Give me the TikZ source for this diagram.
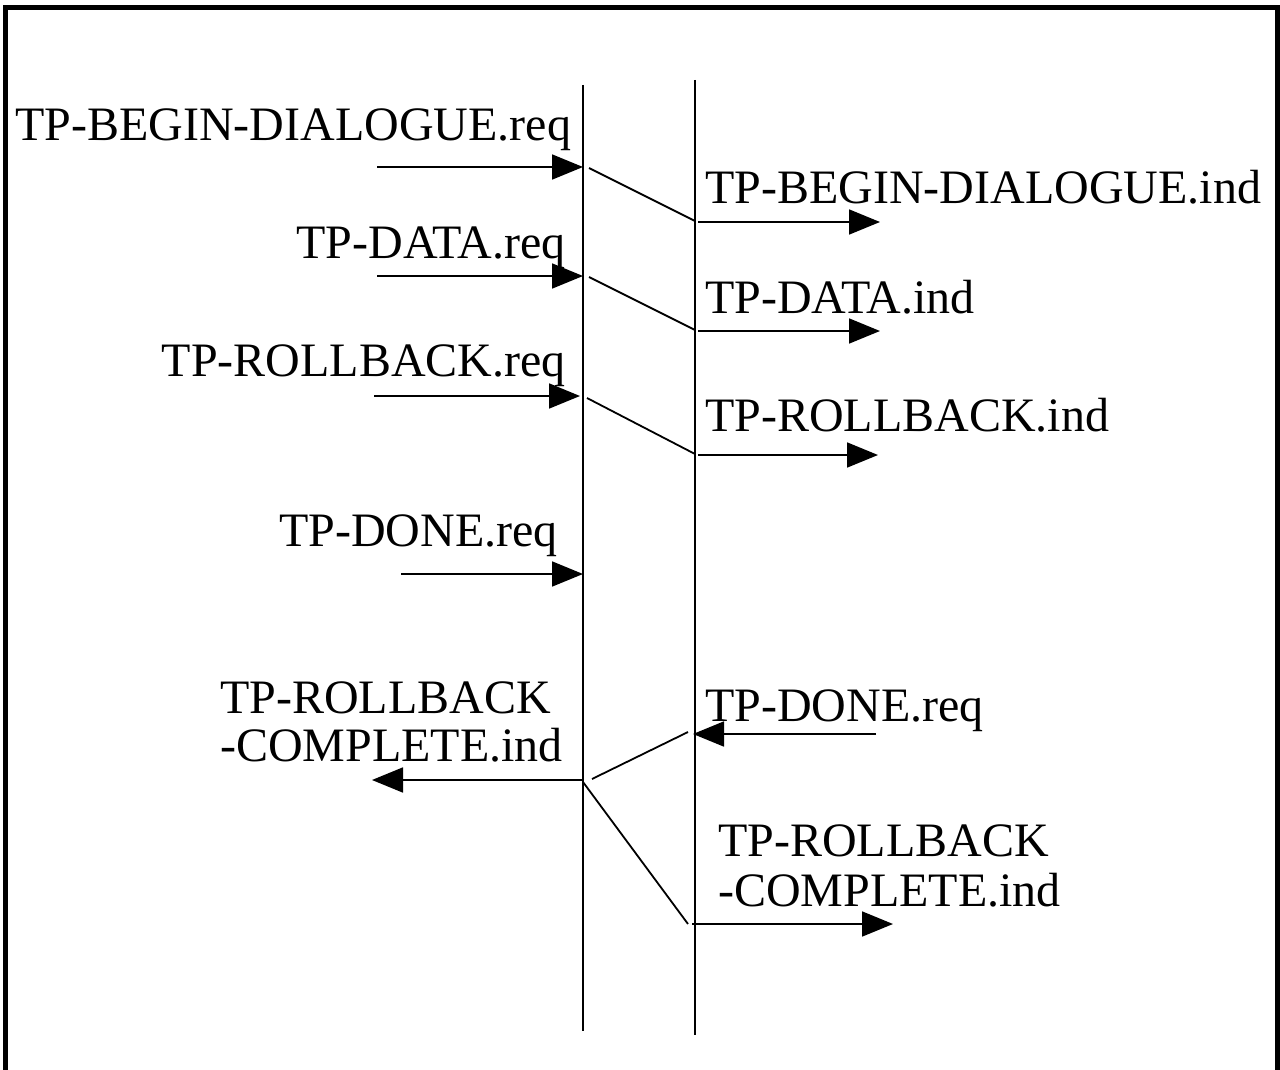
\documentclass[tikz,border=0pt]{standalone}
\usepackage{fontspec}
\setmainfont{Liberation Serif}
\usetikzlibrary{arrows.meta}
\begin{document}
\begin{tikzpicture}[x=1pt,y=-1pt,
  lbl/.style={inner sep=0pt,font=\fontsize{48}{50}\selectfont},
  lblw/.style={lbl,anchor=base west},
  lble/.style={lbl,anchor=base east},
  msg/.style={line width=1.8pt,-{Triangle[length=31pt,width=25pt]}},
  link/.style={line width=1.8pt},
  life/.style={line width=2pt}]
  \useasboundingbox (0,0) rectangle (1280,1070);
  % open frame
  \draw[line width=5pt] (5,1070) -- (5,8) -- (1277,8) -- (1277,1070);

  % two lifelines
  \coordinate (aTop) at (583,85);   \coordinate (aBot) at (583,1031);
  \coordinate (bTop) at (695,80);   \coordinate (bBot) at (695,1035);
  \draw[life] (aTop) -- (aBot);
  \draw[life] (bTop) -- (bBot);

  % begin dialogue
  \coordinate (r1s) at (377,167); \coordinate (r1e) at (583,167);
  \coordinate (d1s) at (589,168); \coordinate (d1e) at (695,221);
  \coordinate (i1s) at (698,222); \coordinate (i1e) at (880,222);
  \draw[msg] (r1s) -- (r1e);
  \draw[link] (d1s) -- (d1e);
  \draw[msg] (i1s) -- (i1e);
  \node[lblw] (l1) at (15,141) {TP-BEGIN-DIALOGUE.req};
  \node[lblw] (m1) at (705,204) {TP-BEGIN-DIALOGUE.ind};

  % data
  \coordinate (r2s) at (377,276); \coordinate (r2e) at (583,276);
  \coordinate (d2s) at (589,277); \coordinate (d2e) at (695,330);
  \coordinate (i2s) at (698,331); \coordinate (i2e) at (880,331);
  \draw[msg] (r2s) -- (r2e);
  \draw[link] (d2s) -- (d2e);
  \draw[msg] (i2s) -- (i2e);
  \node[lble] (l2) at (566,258) {TP-DATA.req};
  \node[lblw] (m2) at (705,313) {TP-DATA.ind};

  % rollback
  \coordinate (r3s) at (374,396); \coordinate (r3e) at (580,396);
  \coordinate (d3s) at (587,398); \coordinate (d3e) at (695,454);
  \coordinate (i3s) at (698,455); \coordinate (i3e) at (878,455);
  \draw[msg] (r3s) -- (r3e);
  \draw[link] (d3s) -- (d3e);
  \draw[msg] (i3s) -- (i3e);
  \node[lble] (l3) at (566,376) {TP-ROLLBACK.req};
  \node[lblw] (m3) at (705,431) {TP-ROLLBACK.ind};

  % done
  \coordinate (r4s) at (401,574); \coordinate (r4e) at (583,574);
  \draw[msg] (r4s) -- (r4e);
  \node[lble] (l4) at (558,546) {TP-DONE.req};

  % done from the other side, rollback complete
  \coordinate (r5s) at (876,734); \coordinate (r5e) at (693,734);
  \coordinate (d5s) at (688,732); \coordinate (d5e) at (592,779);
  \draw[msg] (r5s) -- (r5e);
  \draw[link] (d5s) -- (d5e);
  \node[lblw] (m5) at (705,721) {TP-DONE.req};

  \coordinate (c6s) at (583,780); \coordinate (c6e) at (372,780);
  \draw[msg] (c6s) -- (c6e);
  \node[lblw] (l6a) at (220,713) {TP-ROLLBACK};
  \node[lblw] (l6b) at (220,761) {-COMPLETE.ind};

  \coordinate (d6s) at (583,782); \coordinate (d6e) at (688,924);
  \coordinate (i6s) at (692,924); \coordinate (i6e) at (893,924);
  \draw[link] (d6s) -- (d6e);
  \draw[msg] (i6s) -- (i6e);
  \node[lblw] (m6a) at (718,856) {TP-ROLLBACK};
  \node[lblw] (m6b) at (718,906) {-COMPLETE.ind};
\end{tikzpicture}
\end{document}
